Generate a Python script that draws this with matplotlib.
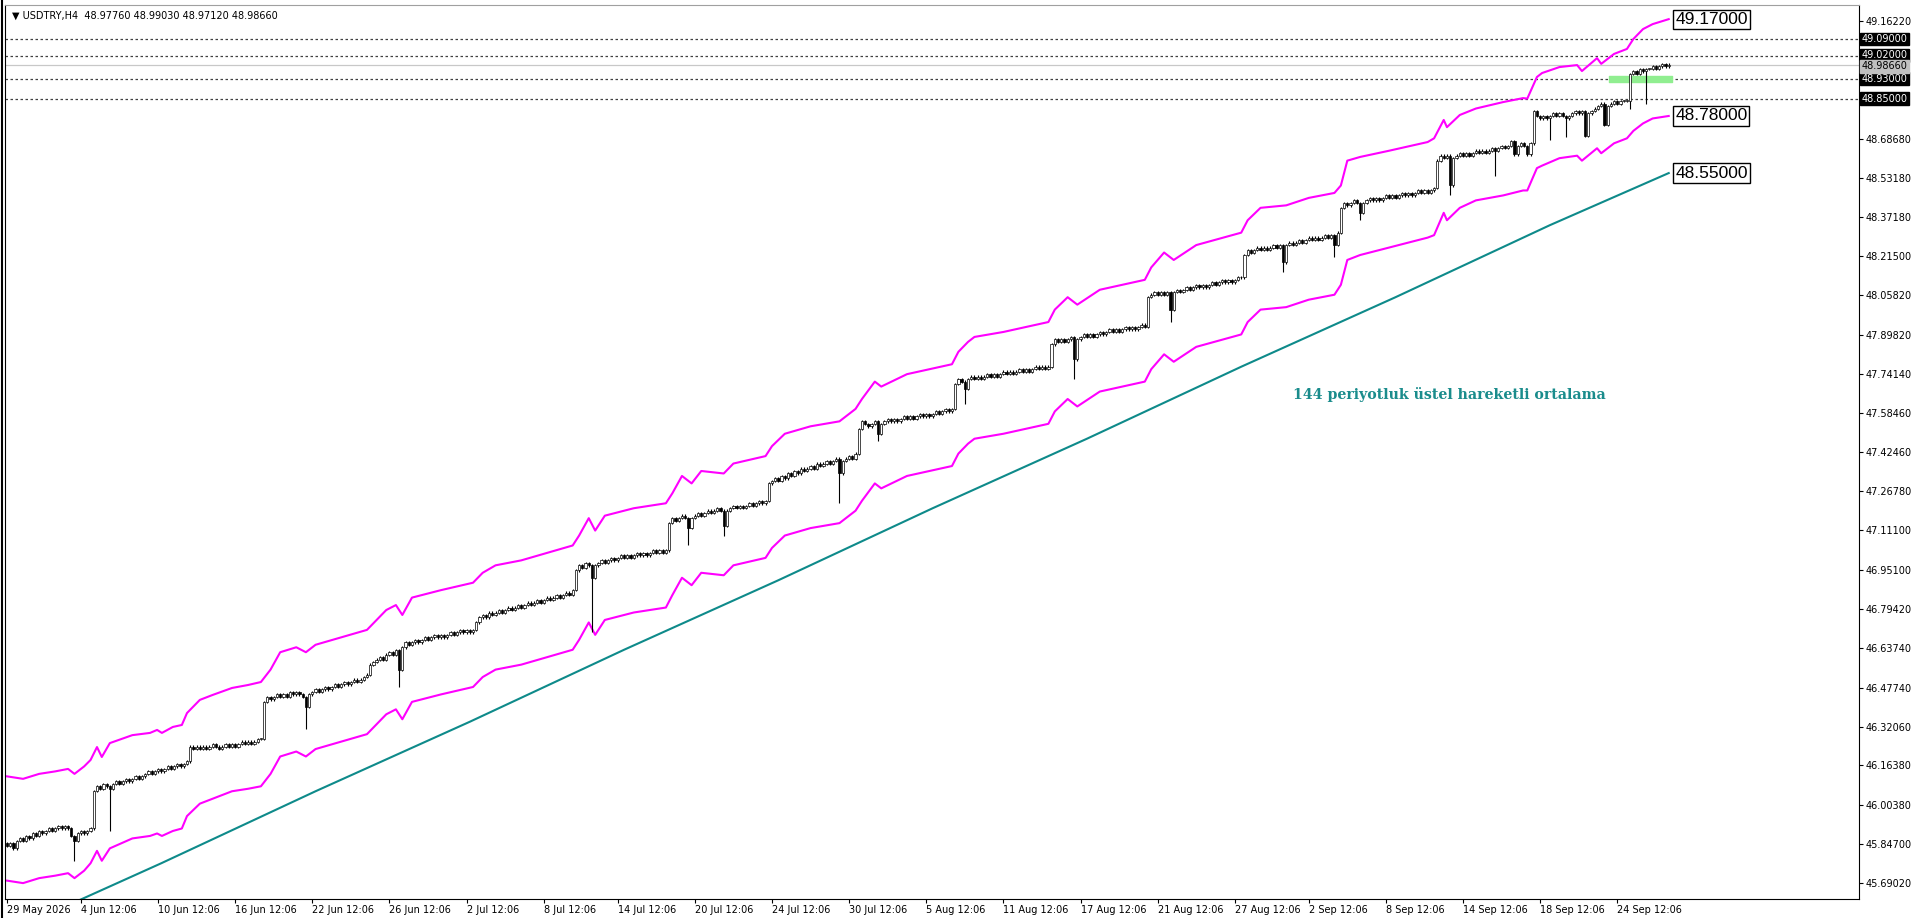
# USDTRY H4 chart with envelope bands and 144 period EMA (MT4 style)

import matplotlib
matplotlib.use('Agg')
import matplotlib.pyplot as plt
from matplotlib.lines import Line2D

# Close prices per weekly block (bar index runs on continuously)
first_open = 45.85
week_closes = [
    [45.84, 45.85, 45.83, 45.86, 45.87, 45.86, 45.88, 45.87, 45.89, 45.88, 45.90, 45.89, 45.90, 45.91,
     45.90, 45.91, 45.92, 45.91, 45.92, 45.91, 45.88, 45.86, 45.89, 45.90, 45.89, 45.90, 45.91],
    [46.06, 46.08, 46.07, 46.09, 46.08, 46.07, 46.09, 46.10, 46.09, 46.10, 46.11, 46.10, 46.11, 46.12,
     46.11, 46.12, 46.13, 46.14, 46.13, 46.14, 46.15, 46.14, 46.15, 46.16, 46.15, 46.16, 46.17, 46.16,
     46.17, 46.18],
    [46.24, 46.23, 46.24, 46.23, 46.24, 46.23, 46.24, 46.25, 46.24, 46.23, 46.24, 46.25, 46.24, 46.25,
     46.24, 46.25, 46.26, 46.25, 46.26, 46.25, 46.26, 46.27, 46.27],
    [46.42, 46.44, 46.43, 46.44, 46.45, 46.44, 46.45, 46.44, 46.46, 46.45, 46.46, 46.45, 46.44, 46.40,
     46.45, 46.46, 46.47, 46.46, 46.47, 46.48, 46.47, 46.48, 46.49, 46.48, 46.49, 46.50, 46.49, 46.50,
     46.51, 46.50, 46.51, 46.52, 46.53],
    [46.57, 46.58, 46.59, 46.60, 46.59, 46.61, 46.62, 46.61, 46.63, 46.55, 46.64, 46.66, 46.65, 46.66,
     46.67, 46.66, 46.67, 46.68, 46.67, 46.68, 46.69, 46.68, 46.69, 46.68, 46.69, 46.70, 46.69, 46.70,
     46.71, 46.70, 46.71, 46.70, 46.71],
    [46.74, 46.76, 46.77, 46.76, 46.78, 46.77, 46.78, 46.79, 46.78, 46.79, 46.80, 46.79, 46.80, 46.81,
     46.80, 46.81, 46.82, 46.81, 46.82, 46.83, 46.82, 46.83, 46.84, 46.83, 46.84, 46.85, 46.84, 46.85,
     46.86, 46.85, 46.87],
    [46.95, 46.97, 46.96, 46.98, 46.97, 46.92, 46.97, 46.98, 46.99, 46.98, 46.99, 47.00, 46.99, 47.00,
     47.01, 47.00, 47.01, 47.00, 47.01, 47.02, 47.01, 47.02, 47.01, 47.02, 47.03, 47.02, 47.03, 47.02,
     47.03],
    [47.14, 47.16, 47.15, 47.16, 47.17, 47.16, 47.12, 47.16, 47.17, 47.18, 47.17, 47.18, 47.19, 47.18,
     47.19, 47.20, 47.19, 47.13, 47.19, 47.20, 47.21, 47.20, 47.21, 47.20, 47.21, 47.22, 47.21, 47.22,
     47.23, 47.22, 47.23],
    [47.30, 47.31, 47.32, 47.31, 47.33, 47.32, 47.34, 47.33, 47.35, 47.34, 47.36, 47.35, 47.36, 47.37,
     47.36, 47.38, 47.37, 47.38, 47.39, 47.38, 47.39, 47.40, 47.34, 47.39, 47.40, 47.41, 47.40, 47.42],
    [47.52, 47.55, 47.54, 47.53, 47.54, 47.55, 47.50, 47.54, 47.55, 47.56, 47.55, 47.56, 47.55, 47.56,
     47.57, 47.56, 47.57, 47.56, 47.57, 47.58, 47.57, 47.58, 47.57, 47.58, 47.59, 47.58, 47.59, 47.60,
     47.59, 47.60],
    [47.70, 47.72, 47.71, 47.68, 47.72, 47.73, 47.72, 47.73, 47.72, 47.73, 47.74, 47.73, 47.74, 47.73,
     47.74, 47.75, 47.74, 47.75, 47.74, 47.75, 47.76, 47.75, 47.76, 47.75, 47.76, 47.77, 47.76, 47.77,
     47.76, 47.77],
    [47.86, 47.88, 47.87, 47.88, 47.87, 47.88, 47.89, 47.80, 47.88, 47.89, 47.90, 47.89, 47.90, 47.89,
     47.90, 47.91, 47.90, 47.91, 47.92, 47.91, 47.92, 47.91, 47.92, 47.93, 47.92, 47.93, 47.92, 47.93,
     47.94, 47.93],
    [48.05, 48.06, 48.07, 48.06, 48.07, 48.06, 48.07, 48.00, 48.07, 48.08, 48.07, 48.08, 48.09, 48.08,
     48.09, 48.10, 48.09, 48.10, 48.09, 48.10, 48.11, 48.10, 48.11, 48.12, 48.11, 48.12, 48.11, 48.12,
     48.13, 48.13],
    [48.22, 48.24, 48.23, 48.24, 48.25, 48.24, 48.25, 48.24, 48.25, 48.26, 48.25, 48.26, 48.19, 48.26,
     48.27, 48.26, 48.27, 48.28, 48.27, 48.28, 48.29, 48.28, 48.29, 48.28, 48.29, 48.30, 48.29, 48.30,
     48.26, 48.31],
    [48.41, 48.43, 48.42, 48.43, 48.44, 48.43, 48.39, 48.43, 48.44, 48.45, 48.44, 48.45, 48.44, 48.45,
     48.46, 48.45, 48.46, 48.45, 48.46, 48.47, 48.46, 48.47, 48.46, 48.47, 48.48, 48.47, 48.48, 48.47,
     48.48, 48.49],
    [48.60, 48.62, 48.61, 48.62, 48.50, 48.61, 48.62, 48.63, 48.62, 48.63, 48.62, 48.63, 48.64, 48.63,
     48.64, 48.63, 48.64, 48.65, 48.64, 48.65, 48.66, 48.65, 48.66, 48.68, 48.625, 48.66, 48.67, 48.66,
     48.625, 48.67],
    [48.80, 48.78, 48.77, 48.78, 48.77, 48.78, 48.79, 48.78, 48.79, 48.78, 48.77, 48.78, 48.79, 48.80,
     48.79, 48.80, 48.70, 48.79, 48.80, 48.81, 48.82, 48.83, 48.745, 48.82, 48.83, 48.84, 48.83, 48.84,
     48.84, 48.84],
    [48.95, 48.96, 48.95, 48.97, 48.96, 48.97, 48.97, 48.98, 48.97, 48.98, 48.99, 48.98, 48.9866],
]

# Long lower shadows (bar index -> low)
long_wicks = {21: 45.78, 32: 45.90, 93: 46.31, 122: 46.48, 182: 46.70, 212: 47.05, 223: 47.09,
              259: 47.22, 271: 47.47, 298: 47.62, 332: 47.72, 362: 47.95, 397: 48.15, 413: 48.21,
              421: 48.36, 449: 48.46, 463: 48.54, 480: 48.683, 485: 48.695, 505: 48.81, 510: 48.83}
wick_tick = 0.005  # normal shadow length beyond the body

# Upper / lower band (bar index, price)
upper_x = [0, 5, 10, 15, 19, 21, 24, 26, 28, 29.5, 32, 39, 44.5, 46.7, 48.2, 51.6, 54.4, 56, 60, 64, 70,
           75, 79, 82, 85, 90, 93, 96, 104, 112, 115, 118, 121, 123, 126, 135, 145, 148, 152, 160, 168,
           176, 178, 181, 183, 186, 195, 205, 207, 210, 213, 216, 223, 226, 236, 238, 242, 250, 259, 264,
           266, 270, 272, 280, 294, 296, 299, 301, 310, 324, 326, 330, 333, 340, 354, 356, 360, 363, 370,
           384, 386, 390, 398, 405, 413, 415, 417, 421, 430, 442, 444, 447, 448, 452, 457, 465.5, 471.7,
           473, 476, 477.6, 483, 488.5, 490, 494.7, 496, 500, 504, 506, 509, 512, 517]
upper_y = [46.12, 46.11, 46.13, 46.14, 46.15, 46.13, 46.16, 46.186, 46.238, 46.198, 46.254, 46.286,
           46.295, 46.307, 46.295, 46.319, 46.327, 46.375, 46.428, 46.448, 46.476, 46.488, 46.50, 46.55,
           46.62, 46.64, 46.62, 46.65, 46.68, 46.71, 46.75, 46.79, 46.81, 46.77, 46.84, 46.87, 46.90,
           46.94, 46.97, 46.99, 47.02, 47.05, 47.09, 47.16, 47.11, 47.17, 47.20, 47.22, 47.26, 47.33,
           47.30, 47.35, 47.34, 47.38, 47.41, 47.45, 47.50, 47.53, 47.55, 47.60, 47.64, 47.71, 47.69,
           47.74, 47.78, 47.83, 47.87, 47.89, 47.91, 47.95, 48.00, 48.05, 48.02, 48.08, 48.12, 48.17,
           48.23, 48.20, 48.26, 48.31, 48.36, 48.41, 48.42, 48.45, 48.47, 48.50, 48.60, 48.615, 48.64,
           48.675, 48.69, 48.764, 48.735, 48.784, 48.81, 48.836, 48.852, 48.85, 48.937, 48.953, 48.977,
           48.985, 48.961, 49.013, 48.99, 49.03, 49.05, 49.09, 49.13, 49.15, 49.17]
lower_y = [45.70, 45.69, 45.71, 45.72, 45.73, 45.71, 45.74, 45.77, 45.82, 45.78, 45.83, 45.87, 45.88,
           45.89, 45.88, 45.90, 45.91, 45.96, 46.01, 46.03, 46.06, 46.07, 46.08, 46.13, 46.20, 46.22,
           46.20, 46.23, 46.26, 46.29, 46.33, 46.37, 46.39, 46.35, 46.42, 46.45, 46.48, 46.52, 46.55,
           46.57, 46.60, 46.63, 46.67, 46.74, 46.69, 46.75, 46.78, 46.80, 46.85, 46.92, 46.89, 46.94,
           46.93, 46.97, 47.00, 47.04, 47.09, 47.12, 47.14, 47.19, 47.23, 47.30, 47.28, 47.33, 47.37,
           47.42, 47.46, 47.48, 47.50, 47.54, 47.59, 47.64, 47.61, 47.67, 47.71, 47.76, 47.82, 47.79,
           47.85, 47.90, 47.95, 48.00, 48.01, 48.04, 48.06, 48.10, 48.20, 48.22, 48.25, 48.29, 48.30,
           48.39, 48.36, 48.41, 48.44, 48.46, 48.48, 48.48, 48.57, 48.58, 48.61, 48.62, 48.60, 48.65,
           48.63, 48.67, 48.69, 48.72, 48.75, 48.77, 48.78]

# 144 period EMA (bar index, price)
ema_x = [0, 48, 96, 144, 192, 240, 288, 336, 384, 432, 480, 517]
ema_y = [45.49, 45.77, 46.06, 46.34, 46.63, 46.91, 47.20, 47.48, 47.77, 48.05, 48.34, 48.55]

# Horizontal price levels
dot_levels = [49.09, 49.02, 48.93, 48.85]
bid_price = 48.9866
band_labels = [(49.17, '49.17000'), (48.78, '48.78000'), (48.55, '48.55000')]
# where the price-scale boxes sit (shifted apart where they would overlap)
scale_box_pos = {49.09: 49.09, 49.02: 49.025, 48.93: 48.93, 48.85: 48.85}
bid_box_pos = 48.980

# Axis labels
y_ticks = [49.16220, 48.68680, 48.53180, 48.37180, 48.21500, 48.05820, 47.89820, 47.74140, 47.58460,
           47.42460, 47.26780, 47.11100, 46.95100, 46.79420, 46.63740, 46.47740, 46.32060, 46.16380,
           46.00380, 45.84700, 45.69020]
x_tick_bars = [0, 23, 47, 71, 95, 119, 143, 167, 190, 214, 238, 262, 286, 310, 334, 358, 382, 405,
               429, 453, 477, 501]
x_tick_labels = ['29 May 2026', '4 Jun 12:06', '10 Jun 12:06', '16 Jun 12:06', '22 Jun 12:06',
                 '26 Jun 12:06', '2 Jul 12:06', '8 Jul 12:06', '14 Jul 12:06', '20 Jul 12:06',
                 '24 Jul 12:06', '30 Jul 12:06', '5 Aug 12:06', '11 Aug 12:06', '17 Aug 12:06',
                 '21 Aug 12:06', '27 Aug 12:06', '2 Sep 12:06', '8 Sep 12:06', '14 Sep 12:06',
                 '18 Sep 12:06', '24 Sep 12:06']

# Build OHLC from the closes
closes = [c for week in week_closes for c in week]
opens = [first_open] + closes[:-1]
bars = list(range(len(closes)))
highs = [max(o, c) + wick_tick for o, c in zip(opens, closes)]
lows = [long_wicks.get(i, min(o, c) - wick_tick) for i, (o, c) in enumerate(zip(opens, closes))]

fig = plt.figure(figsize=(19.2, 9.18), dpi=100)
ax = fig.add_axes([5 / 1920, 19 / 918, 1854 / 1920, 894 / 918])

# Candles
ax.vlines(bars, lows, highs, color='black', linewidth=0.8, zorder=3)
body_bottom = [min(o, c) for o, c in zip(opens, closes)]
body_height = [max(abs(c - o), 0.003) for o, c in zip(opens, closes)]
body_color = ['white' if c >= o else 'black' for o, c in zip(opens, closes)]
ax.bar(bars, body_height, bottom=body_bottom, width=0.7, color=body_color,
       edgecolor='black', linewidth=0.5, zorder=4)

# Indicators
ax.plot(upper_x, upper_y, color='#FF00FF', linewidth=1.5, zorder=2)
ax.plot(upper_x, lower_y, color='#FF00FF', linewidth=1.5, zorder=2)
ax.plot(ema_x, ema_y, color='#0E8A8A', linewidth=1.5, zorder=2)

# Price levels
for lvl in dot_levels:
    ax.axhline(lvl, color='#404040', linewidth=0.9, linestyle=(0, (2, 2)), zorder=1)
ax.axhline(bid_price, color='#C8C8C8', linewidth=0.9, zorder=1)
ax.fill_between([498.5, 518], 48.918, 48.942, color='#90EE90', zorder=1)

# Boxed values at the end of the lines
for val, txt in band_labels:
    ax.text(519, val, txt, fontsize=12.5, family='Liberation Sans', ha='left', va='center',
            bbox=dict(boxstyle='square,pad=0.12', facecolor='white', edgecolor='black', linewidth=1),
            zorder=6)

ax.text(400, 47.66, '144 periyotluk üstel hareketli ortalama', fontsize=10.2, color='#1A8C8C',
        family='DejaVu Serif', fontweight='bold', ha='left', va='center')

ax.text(0.004, 0.988, '\u25bc USDTRY,H4  48.97760 48.99030 48.97120 48.98660', transform=ax.transAxes,
        fontsize=7, ha='left', va='center', color='black')

# Axes
ax.set_xlim(-0.62, 576.2)
ax.set_ylim(45.626, 49.227)
ax.yaxis.tick_right()
ax.set_yticks(y_ticks)
ax.set_yticklabels(['%.5f' % v for v in y_ticks])
ax.set_xticks(x_tick_bars)
ax.set_xticklabels(x_tick_labels)
for lab in ax.get_xticklabels():
    lab.set_horizontalalignment('left')
ax.tick_params(axis='y', labelsize=7, length=3, pad=2, colors='black')
ax.tick_params(axis='x', labelsize=7, length=3, pad=1, colors='black')
for side in ['left', 'right', 'bottom']:
    ax.spines[side].set_color('black')
ax.spines['top'].set_color('#A0A0A0')

# Boxes on the price scale
ytr = ax.get_yaxis_transform()
for lvl in dot_levels:
    ax.text(1.0015, scale_box_pos[lvl], '%.5f' % lvl, transform=ytr, fontsize=7, color='white',
            ha='left', va='center', clip_on=False,
            bbox=dict(boxstyle='square,pad=0.15', facecolor='black', edgecolor='black'))
ax.text(1.0015, bid_box_pos, '%.5f' % bid_price, transform=ytr, fontsize=7, color='black', ha='left',
        va='center', bbox=dict(boxstyle='square,pad=0.15', facecolor='#C0C0C0', edgecolor='#C0C0C0'),
        clip_on=False)

# Window border on the left
fig.add_artist(Line2D([1.5 / 1920, 1.5 / 1920], [0, 1], color='black', linewidth=1.5))

plt.savefig('out.png', dpi=100)
